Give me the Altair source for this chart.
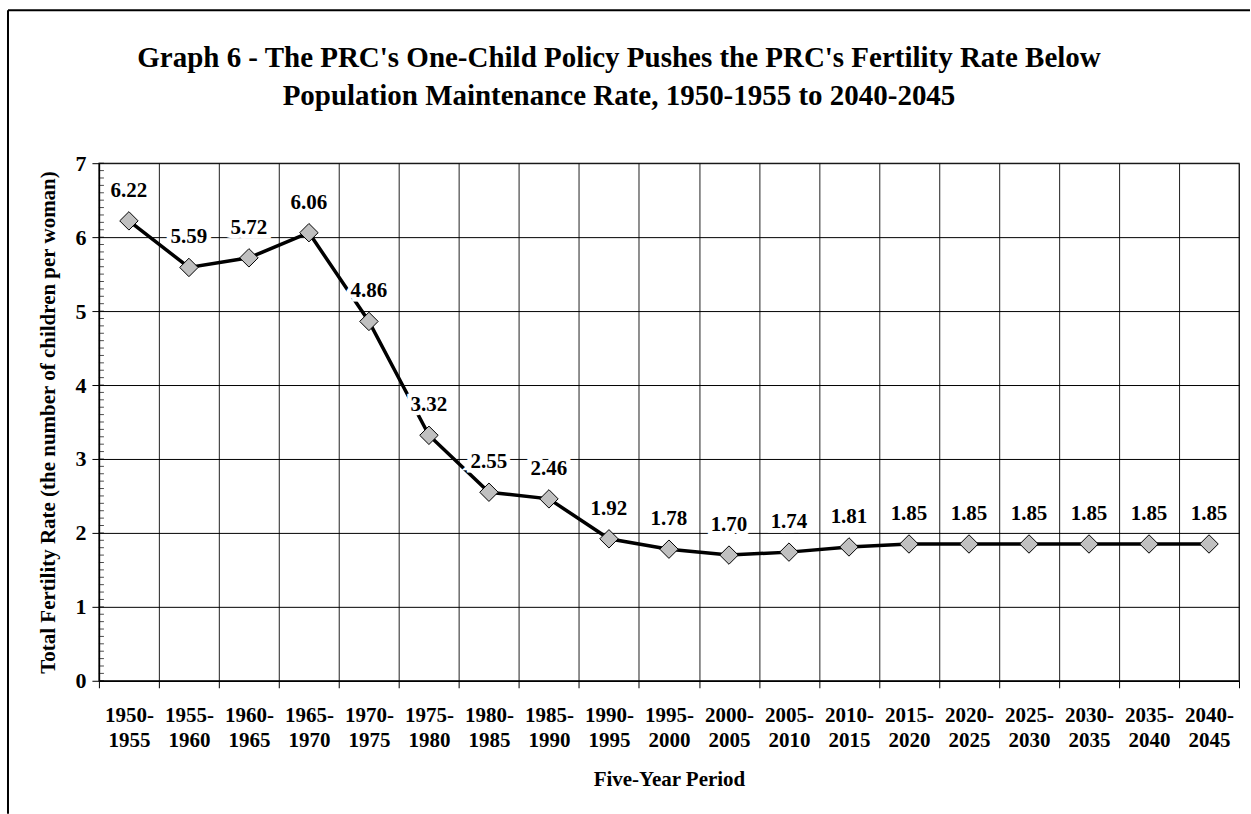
import altair as alt
import pandas as pd

# Five-year periods and total fertility rate (children per woman)
periods = [
    "1950-1955", "1955-1960", "1960-1965", "1965-1970", "1970-1975",
    "1975-1980", "1980-1985", "1985-1990", "1990-1995", "1995-2000",
    "2000-2005", "2005-2010", "2010-2015", "2015-2020", "2020-2025",
    "2025-2030", "2030-2035", "2035-2040", "2040-2045",
]
rates = [6.22, 5.59, 5.72, 6.06, 4.86, 3.32, 2.55, 2.46, 1.92, 1.78,
         1.70, 1.74, 1.81, 1.85, 1.85, 1.85, 1.85, 1.85, 1.85]

y_major = [0, 1, 2, 3, 4, 5, 6, 7]
y_minor = [round(i * 0.1, 1) for i in range(0, 71)]

title_lines = [
    "Graph 6 - The PRC's One-Child Policy Pushes the PRC's Fertility Rate Below",
    "Population Maintenance Rate, 1950-1955 to 2040-2045",
]
x_title = "Five-Year Period"
y_title = "Total Fertility Rate (the number of children per woman)"

FONT = "Liberation Serif"

df = pd.DataFrame({"period": periods, "rate": rates})
df["label"] = [f"{v:.2f}" for v in rates]
minor_df = pd.DataFrame({"v": y_minor})
one = pd.DataFrame({"k": [0]})

# two-line period labels; the extra boundary tick has no value
period_label = (
    "isValid(datum.value) ? "
    "[slice(datum.value, 0, 5), slice(datum.value, 5)] : ''"
)

x_enc = alt.X(
    "period:N",
    sort=periods,
    scale=alt.Scale(paddingInner=0, paddingOuter=0),
    axis=alt.Axis(
        title=x_title,
        tickBand="extent",
        labelAngle=0,
        labelExpr=period_label,
        labelLineHeight=25,
        labelFont=FONT,
        labelFontSize=21,
        labelFontWeight="bold",
        labelColor="black",
        labelPadding=17,
        tickSize=7,
        tickColor="black",
        domainColor="black",
        domainWidth=1.5,
        grid=True,
        gridColor="#202020",
        gridWidth=1,
        titleFont=FONT,
        titleFontSize=21,
        titleFontWeight="bold",
        titleColor="black",
        titlePadding=18,
    ),
)

y_enc = alt.Y(
    "rate:Q",
    scale=alt.Scale(domain=[0, 7], nice=False),
    axis=alt.Axis(
        title=y_title,
        values=y_major,
        format="d",
        labelFont=FONT,
        labelFontSize=22,
        labelFontWeight="bold",
        labelColor="black",
        labelPadding=6,
        tickSize=7,
        tickColor="black",
        domainColor="black",
        domainWidth=1.5,
        grid=True,
        gridColor="black",
        gridWidth=1,
        titleFont=FONT,
        titleFontSize=21,
        titleFontWeight="bold",
        titleColor="black",
        titlePadding=16,
    ),
)

base = alt.Chart(df).encode(x=x_enc, y=y_enc)

line = base.mark_line(color="black", strokeWidth=3.5)

text_style = dict(font=FONT, fontSize=21, fontWeight="bold",
                  dy=-30, baseline="middle", align="center")

# white halo behind each value label, hiding grid and line beneath it
label_halo = base.mark_text(
    color="white", stroke="white", strokeWidth=9, strokeJoin="miter", **text_style
).encode(text="label:N")

labels = base.mark_text(color="black", **text_style).encode(text="label:N")

points = base.mark_point(
    shape="diamond", filled=True, fill="#C0C0C0", stroke="black",
    strokeWidth=1, size=340, opacity=1,
)

# minor ticks on the inside of the value axis
minor_ticks = alt.Chart(minor_df).mark_tick(
    orient="horizontal", color="black", size=5, thickness=1,
).encode(y=alt.Y("v:Q", title=y_title), x=alt.value(2.5))

# outer chart frame (left and top edges)
frame_left = alt.Chart(one).mark_rule(color="black", strokeWidth=2).encode(
    x=alt.value(-91), y=alt.value(-153), y2=alt.value(651)
)
frame_top = alt.Chart(one).mark_rule(color="black", strokeWidth=2).encode(
    x=alt.value(-91), x2=alt.value(1152), y=alt.value(-153)
)

chart = alt.layer(
    line, label_halo, labels, points, minor_ticks, frame_left, frame_top
).properties(
    width=1141,
    height=518,
    padding={"left": 7, "top": 9, "right": 0, "bottom": 0},
    title=alt.TitleParams(
        text=title_lines,
        font=FONT,
        fontSize=29,
        fontWeight="bold",
        color="black",
        lineHeight=38,
        anchor="middle",
        frame="group",
        dx=-50,
        offset=-102,
    ),
).configure_view(
    stroke="#808080", strokeWidth=1.5
)

chart.save("out.html", embed_options={"renderer": "svg", "actions": False})
